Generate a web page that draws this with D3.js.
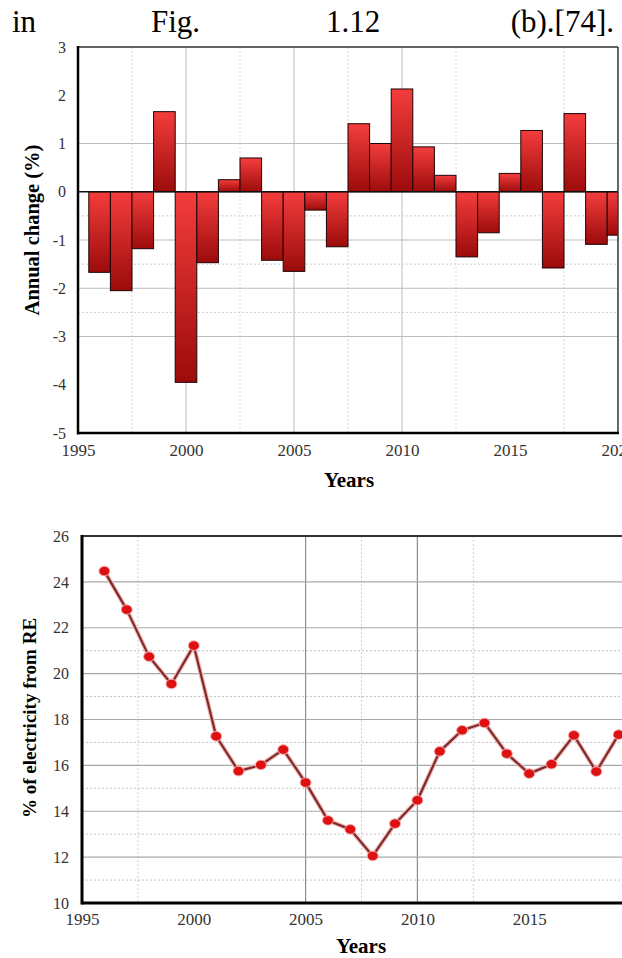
<!DOCTYPE html>
<html>
<head>
<meta charset="utf-8">
<script src="https://cdn.jsdelivr.net/npm/d3@7"></script>
<style>
  body { margin: 0; background: #fff; }
  svg { display: block; }
  text { font-family: "Liberation Serif", "Times New Roman", serif; }
</style>
</head>
<body>
<svg id="fig" width="622" height="958"></svg>
<script>
// ---- data: annual change of electricity share (%) ----
const changeYears = [1996, 1997, 1998, 1999, 2000, 2001, 2002, 2003, 2004, 2005, 2006, 2007, 2008,
                     2009, 2010, 2011, 2012, 2013, 2014, 2015, 2016, 2017, 2018, 2019, 2020];
const annualChange = [-1.67, -2.05, -1.18, 1.66, -3.95, -1.47, 0.25, 0.70, -1.42, -1.65, -0.38, -1.14, 1.41,
                      1.00, 2.13, 0.93, 0.34, -1.35, -0.85, 0.38, 1.27, -1.58, 1.62, -1.09, -0.90];

// ---- data: share of electricity from renewable energy (%) ----
const reYears = [1996, 1997, 1998, 1999, 2000, 2001, 2002, 2003, 2004, 2005, 2006, 2007,
                 2008, 2009, 2010, 2011, 2012, 2013, 2014, 2015, 2016, 2017, 2018, 2019];
const reShare = [24.47, 22.79, 20.74, 19.55, 21.22, 17.27, 15.75, 16.02, 16.69, 15.25, 13.60, 13.21,
                 12.05, 13.46, 14.48, 16.61, 17.53, 17.85, 16.51, 15.64, 16.05, 17.31, 15.73, 17.34];

// ---- tick labels ----
const yearTicks = [1995, 2000, 2005, 2010, 2015, 2020];
const changeTicks = [3, 2, 1, 0, -1, -2, -3, -4, -5];
const shareTicks = [10, 12, 14, 16, 18, 20, 22, 24, 26];

// ---- running text above the figure ----
const headerWords = ["in", "Fig.", "1.12", "(b).[74]."];

const svg = d3.select("#fig");
const plainNum = d => String(d);   // hyphen-minus, as in the printed labels

// header line (justified words)
const headerX = [12, 151, 326, 614];
svg.selectAll("text.hdr").data(headerWords).join("text")
  .attr("class", "hdr")
  .attr("x", (d, i) => headerX[i])
  .attr("y", 32)
  .attr("text-anchor", (d, i) => i === headerWords.length - 1 ? "end" : "start")
  .attr("font-size", 31)
  .attr("fill", "#000")
  .text(d => d);

// gradient for bars
const defs = svg.append("defs");
const grad = defs.append("linearGradient").attr("id", "barGrad")
  .attr("x1", 0).attr("y1", 0).attr("x2", 0).attr("y2", 1);
grad.append("stop").attr("offset", "0%").attr("stop-color", "#f43d3d");
grad.append("stop").attr("offset", "100%").attr("stop-color", "#9c0b0b");

// ============ chart A: annual change bars ============
const A = { left: 78, right: 618, top: 47, bottom: 433 };
const xA = d3.scaleLinear().domain([1995, 2020]).range([A.left, A.right]);
const yA = d3.scaleLinear().domain([-5, 3]).range([A.bottom, A.top]);

defs.append("clipPath").attr("id", "clipA").append("rect")
  .attr("x", A.left).attr("y", A.top).attr("width", A.right - A.left).attr("height", A.bottom - A.top);

const gA = svg.append("g");

// grid
const aMinorX = [1997.5, 2002.5, 2007.5, 2012.5, 2017.5];
const aMajorX = [2000, 2005, 2010];
const aMajorY = [1, -1, -2, -3];
const aMinorY = [-0.5, -1.5, -2.5];
gA.selectAll("line.amx").data(aMinorX).join("line")
  .attr("x1", d => xA(d)).attr("x2", d => xA(d)).attr("y1", A.top).attr("y2", A.bottom)
  .attr("stroke", "#d8d8d8").attr("stroke-width", 1).attr("stroke-dasharray", "2,2");
gA.selectAll("line.aMx").data(aMajorX).join("line")
  .attr("x1", d => xA(d)).attr("x2", d => xA(d)).attr("y1", A.top).attr("y2", A.bottom)
  .attr("stroke", "#bdbdbd").attr("stroke-width", 1);
gA.selectAll("line.amy").data(aMinorY).join("line")
  .attr("x1", A.left).attr("x2", A.right).attr("y1", d => yA(d)).attr("y2", d => yA(d))
  .attr("stroke", "#cfcfcf").attr("stroke-width", 1).attr("stroke-dasharray", "2,2");
gA.selectAll("line.aMy").data(aMajorY).join("line")
  .attr("x1", A.left).attr("x2", A.right).attr("y1", d => yA(d)).attr("y2", d => yA(d))
  .attr("stroke", "#bdbdbd").attr("stroke-width", 1);

// bars
const barData = changeYears.map((y, i) => ({ year: y, v: annualChange[i] }));
gA.append("g").attr("clip-path", "url(#clipA)")
  .selectAll("rect").data(barData).join("rect")
  .attr("x", d => xA(d.year - 0.5))
  .attr("width", d => xA(d.year + 0.5) - xA(d.year - 0.5))
  .attr("y", d => yA(Math.max(0, d.v)))
  .attr("height", d => Math.abs(yA(d.v) - yA(0)))
  .attr("fill", "url(#barGrad)")
  .attr("stroke", "#1e0303").attr("stroke-width", 1);

// zero line
gA.append("line").attr("x1", A.left).attr("x2", A.right).attr("y1", yA(0)).attr("y2", yA(0))
  .attr("stroke", "#111").attr("stroke-width", 1.5);

// frame
gA.append("line").attr("x1", A.left).attr("x2", A.right).attr("y1", A.top).attr("y2", A.top)
  .attr("stroke", "#333").attr("stroke-width", 1.5);
gA.append("line").attr("x1", A.right).attr("x2", A.right).attr("y1", A.top).attr("y2", A.bottom)
  .attr("stroke", "#333").attr("stroke-width", 1.5);
gA.append("line").attr("x1", A.left).attr("x2", A.left).attr("y1", A.top - 1).attr("y2", A.bottom + 1.5)
  .attr("stroke", "#000").attr("stroke-width", 2.5);
gA.append("line").attr("x1", A.left).attr("x2", A.right + 1).attr("y1", A.bottom).attr("y2", A.bottom)
  .attr("stroke", "#000").attr("stroke-width", 2.5);

// axes labels
const axA_x = gA.append("g").attr("transform", `translate(0,${A.bottom + 8})`)
  .call(d3.axisBottom(xA).tickValues(yearTicks).tickSize(0).tickFormat(plainNum));
axA_x.select(".domain").remove();
axA_x.selectAll("text").attr("font-size", 17).attr("fill", "#333");

const axA_y = gA.append("g").attr("transform", `translate(${A.left - 9},0)`)
  .call(d3.axisLeft(yA).tickValues(changeTicks).tickSize(0).tickFormat(plainNum));
axA_y.select(".domain").remove();
axA_y.selectAll("text").attr("font-size", 16).attr("fill", "#333");

gA.append("text").attr("x", 349).attr("y", 487).attr("text-anchor", "middle")
  .attr("font-size", 21).attr("font-weight", "bold").text("Years");
gA.append("text").attr("transform", "translate(39,230) rotate(-90)").attr("text-anchor", "middle")
  .attr("font-size", 20.5).attr("font-weight", "bold").text("Annual change (%)");

// ============ chart B: share of electricity from RE ============
const B = { left: 82, right: 641, top: 536, bottom: 903 };
const xB = d3.scaleLinear().domain([1995, 2020]).range([B.left, B.right]);
const yB = d3.scaleLinear().domain([10, 26]).range([B.bottom, B.top]);

const gB = svg.append("g");

const bMinorX = [1997.5, 2007.5, 2012.5];
const bMajorX = [2005, 2010];
const bMajorY = [12, 14, 16, 18, 20, 22, 24];
const bMinorY = [11, 13, 15, 17, 19, 21];
gB.selectAll("line.bmx").data(bMinorX).join("line")
  .attr("x1", d => xB(d)).attr("x2", d => xB(d)).attr("y1", B.top).attr("y2", B.bottom)
  .attr("stroke", "#cfcfcf").attr("stroke-width", 1).attr("stroke-dasharray", "2,2");
gB.selectAll("line.bMx").data(bMajorX).join("line")
  .attr("x1", d => xB(d)).attr("x2", d => xB(d)).attr("y1", B.top).attr("y2", B.bottom)
  .attr("stroke", "#8c8c8c").attr("stroke-width", 1.2);
gB.selectAll("line.bmy").data(bMinorY).join("line")
  .attr("x1", B.left).attr("x2", B.right).attr("y1", d => yB(d)).attr("y2", d => yB(d))
  .attr("stroke", "#c4c4c4").attr("stroke-width", 1).attr("stroke-dasharray", "2,2");
gB.selectAll("line.bMy").data(bMajorY).join("line")
  .attr("x1", B.left).attr("x2", B.right).attr("y1", d => yB(d)).attr("y2", d => yB(d))
  .attr("stroke", "#a8a8a8").attr("stroke-width", 1.2);

// frame
gB.append("line").attr("x1", B.left).attr("x2", B.right).attr("y1", B.top).attr("y2", B.top)
  .attr("stroke", "#333").attr("stroke-width", 2);
gB.append("line").attr("x1", B.left).attr("x2", B.left).attr("y1", B.top - 1).attr("y2", B.bottom + 1.5)
  .attr("stroke", "#000").attr("stroke-width", 3);
gB.append("line").attr("x1", B.left).attr("x2", B.right).attr("y1", B.bottom).attr("y2", B.bottom)
  .attr("stroke", "#000").attr("stroke-width", 3);

// line + markers
const pts = reYears.map((y, i) => ({ year: y, v: reShare[i] }));
const lineGen = d3.line().x(d => xB(d.year)).y(d => yB(d.v));
gB.append("path").datum(pts).attr("d", lineGen)
  .attr("fill", "none").attr("stroke", "#f2b8b8").attr("stroke-width", 4.5).attr("stroke-linejoin", "round");
gB.append("path").datum(pts).attr("d", lineGen)
  .attr("fill", "none").attr("stroke", "#7e2b2b").attr("stroke-width", 2.2).attr("stroke-linejoin", "round");
gB.selectAll("ellipse.pt").data(pts).join("ellipse")
  .attr("class", "pt")
  .attr("cx", d => xB(d.year)).attr("cy", d => yB(d.v))
  .attr("rx", 5.5).attr("ry", 4.8)
  .attr("fill", "#dd1111").attr("stroke", "#f7b0b0").attr("stroke-width", 1);

// axes labels
const axB_x = gB.append("g").attr("transform", `translate(0,${B.bottom + 7})`)
  .call(d3.axisBottom(xB).tickValues(yearTicks).tickSize(0).tickFormat(plainNum));
axB_x.select(".domain").remove();
axB_x.selectAll("text").attr("font-size", 17).attr("fill", "#333");

const axB_y = gB.append("g").attr("transform", `translate(${B.left - 10},0)`)
  .call(d3.axisLeft(yB).tickValues(shareTicks).tickSize(0).tickFormat(plainNum));
axB_y.select(".domain").remove();
axB_y.selectAll("text").attr("font-size", 16).attr("fill", "#333");

gB.append("text").attr("x", 361).attr("y", 953).attr("text-anchor", "middle")
  .attr("font-size", 21).attr("font-weight", "bold").text("Years");
gB.append("text").attr("transform", "translate(36,718) rotate(-90)").attr("text-anchor", "middle")
  .attr("font-size", 19).attr("font-weight", "bold").text("% of electricity from RE");
</script>
</body>
</html>
